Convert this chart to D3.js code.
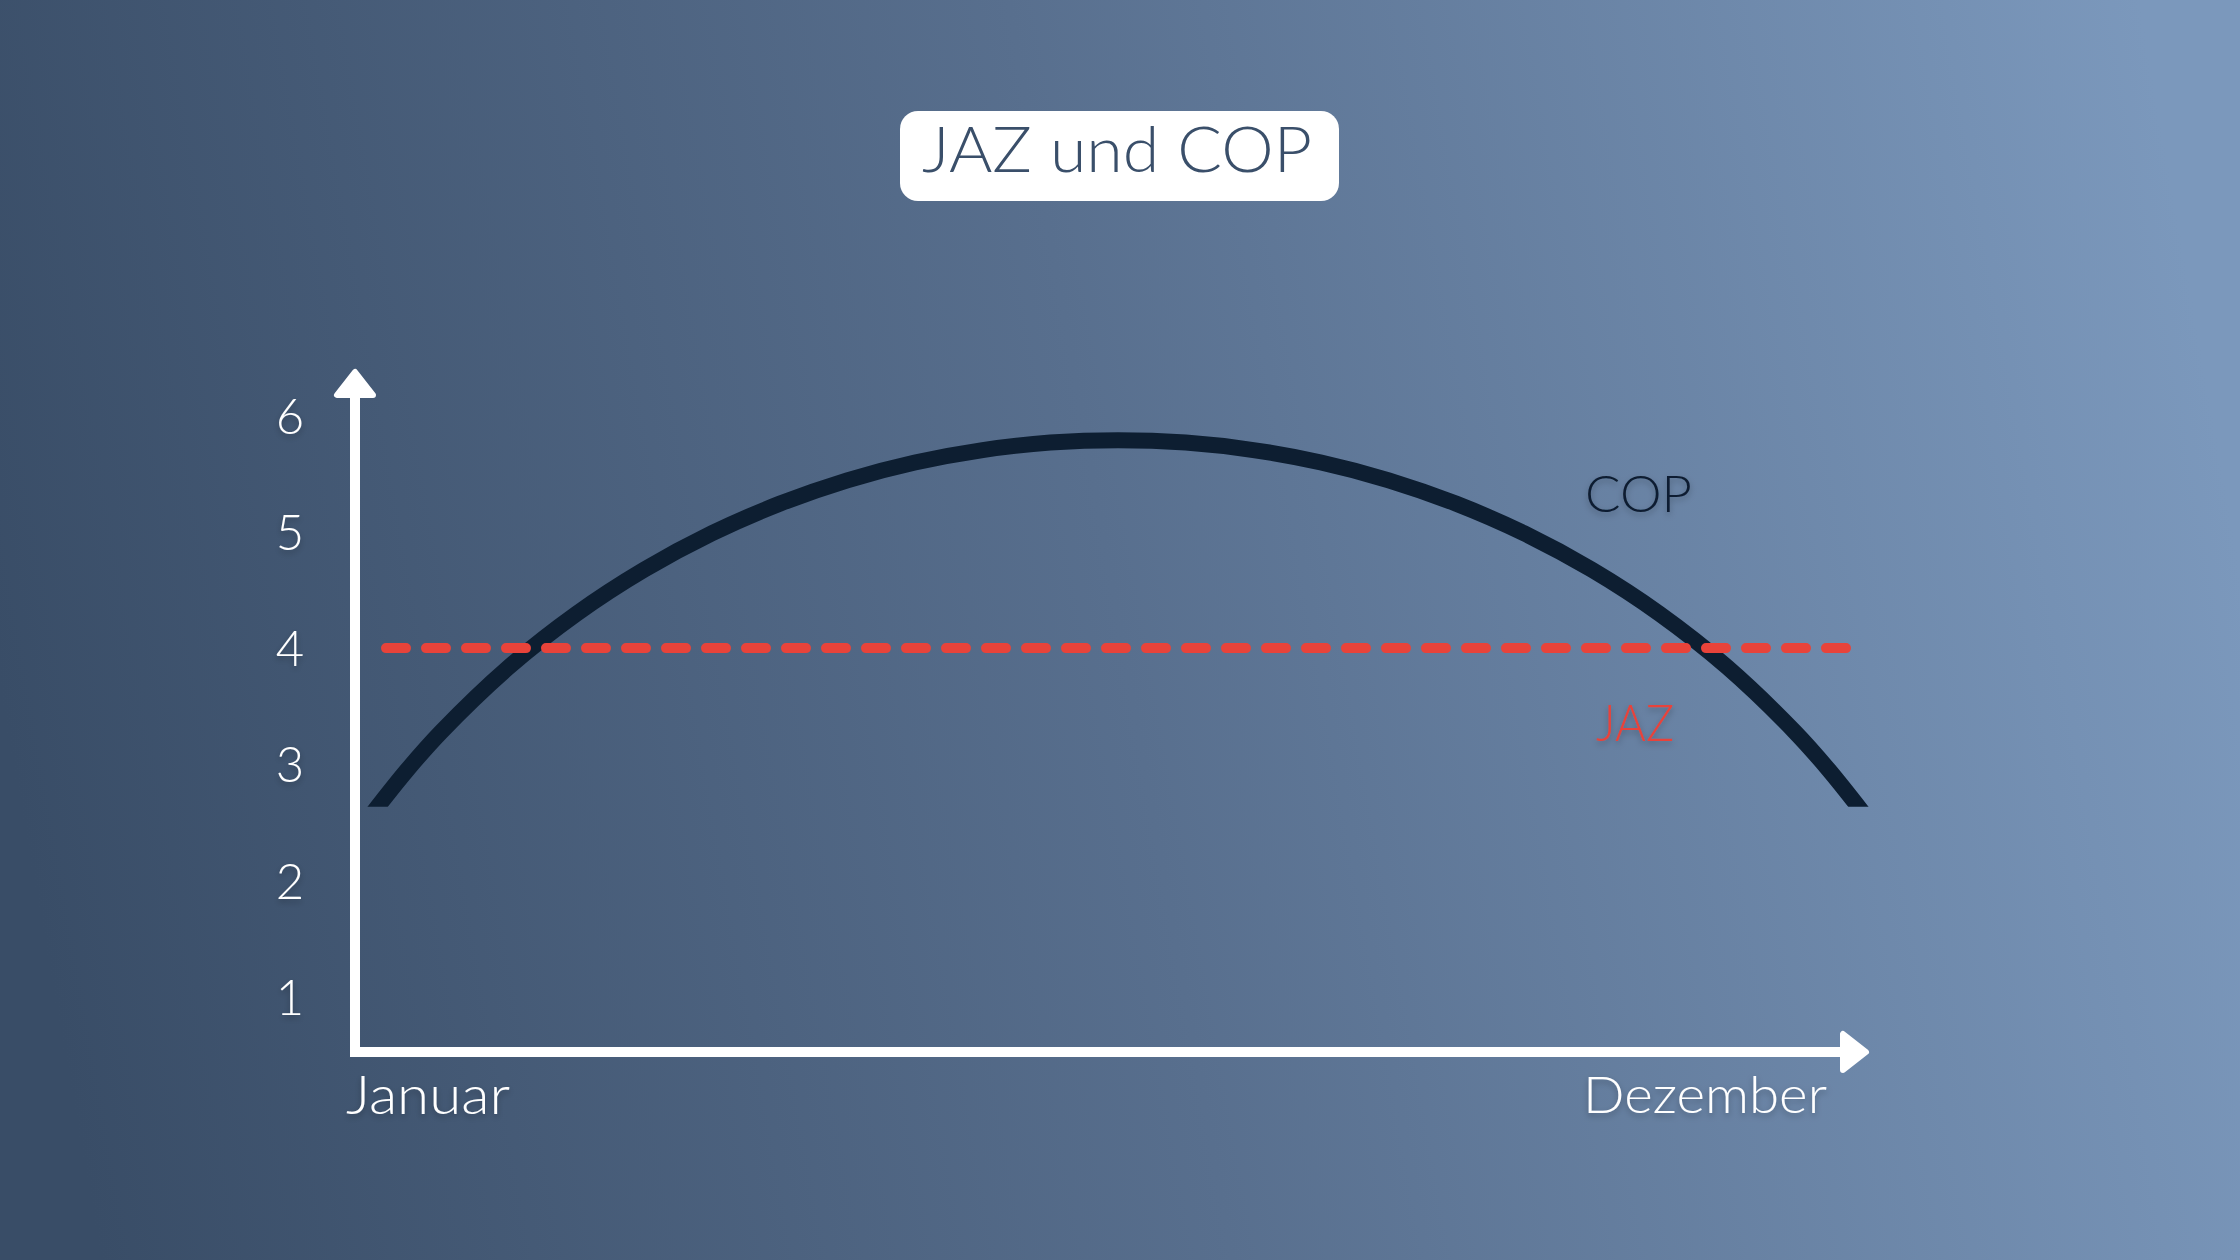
<!DOCTYPE html>
<html>
<head>
<meta charset="utf-8">
<script src="https://cdn.jsdelivr.net/npm/d3@7"></script>
<style>
  html, body { margin: 0; padding: 0; overflow: hidden; }
  svg { display: block; }
  text { font-family: Lato, "Open Sans", sans-serif; font-weight: 300; }
</style>
</head>
<body>
<script>
// ---- data ----
const months = ["Januar","Februar","März","April","Mai","Juni","Juli","August","September","Oktober","November","Dezember"];
// COP (month index 0 = Januar ... 11 = Dezember)
const copMonth = [0, 0.25, 0.5, 1, 1.5, 2, 2.5, 3, 3.5, 4, 4.5, 5, 5.5, 6, 6.5, 7, 7.5, 8, 8.5, 9, 9.5, 10, 10.5, 10.75, 11];
const copValues = [2.590, 2.954, 3.280, 3.837, 4.295, 4.674, 4.987, 5.241, 5.443, 5.596, 5.703, 5.767, 5.788,
                   5.767, 5.703, 5.596, 5.443, 5.241, 4.987, 4.674, 4.295, 3.837, 3.280, 2.954, 2.590];
const jazMonth = [0, 11];
const jazValues = [4, 4];
const yTicks = [1, 2, 3, 4, 5, 6];
const xLabels = ["Januar", "Dezember"];
const title = "JAZ und COP";

const W = 2240, H = 1260;
const svg = d3.select("body").append("svg").attr("width", W).attr("height", H);
const defs = svg.append("defs");

const bg = defs.append("linearGradient").attr("id", "bg")
  .attr("x1", "0").attr("y1", "0.55").attr("x2", "1").attr("y2", "0.45");
bg.append("stop").attr("offset", "0").attr("stop-color", "#394d67");
bg.append("stop").attr("offset", "0.5").attr("stop-color", "#586f8e");
bg.append("stop").attr("offset", "1").attr("stop-color", "#7b98bc");

const sh = defs.append("filter").attr("id", "shadow").attr("x", "-20%").attr("y", "-20%").attr("width", "140%").attr("height", "140%");
sh.append("feDropShadow").attr("dx", 0).attr("dy", 3).attr("stdDeviation", 3)
  .attr("flood-color", "#000").attr("flood-opacity", 0.28);

svg.append("rect").attr("width", W).attr("height", H).attr("fill", "url(#bg)");

// ---- scales ----
const x = d3.scaleLinear().domain([0, months.length - 1]).range([373.5, 1862.5]);
const y = d3.scaleLinear().domain([1, 6]).range([997, 415.5]);

const originX = 355, originY = 1052;

// ---- title ----
svg.append("rect").attr("x", 900).attr("y", 111).attr("width", 439).attr("height", 90)
  .attr("rx", 18).attr("fill", "#ffffff");
svg.append("text").attr("x", 922).attr("y", 172)
  .attr("font-size", 64).attr("fill", "#3a4f6a")
  .attr("textLength", 390).attr("lengthAdjust", "spacingAndGlyphs")
  .text(title);

// ---- axes ----
svg.append("path")
  .attr("d", `M${originX},392V${originY}H1846`)
  .attr("fill", "none").attr("stroke", "#fff").attr("stroke-width", 10)
  .attr("stroke-linejoin", "miter");
svg.append("path")
  .attr("d", `M${originX},372L${originX - 18},395L${originX + 18},395Z`)
  .attr("fill", "#fff").attr("stroke", "#fff").attr("stroke-width", 6).attr("stroke-linejoin", "round");
svg.append("path")
  .attr("d", `M1866,${originY}L1843,${originY - 18}L1843,${originY + 18}Z`)
  .attr("fill", "#fff").attr("stroke", "#fff").attr("stroke-width", 6).attr("stroke-linejoin", "round");

// y tick labels via d3 axis
const yAxis = svg.append("g").attr("transform", `translate(${originX},0)`)
  .call(d3.axisLeft(y).tickValues(yTicks).tickSize(0).tickFormat(d3.format("d")));
yAxis.select(".domain").remove();
yAxis.selectAll("text")
  .attr("x", -65).attr("dy", null).attr("y", 17.5)
  .attr("text-anchor", "middle")
  .attr("font-size", 49).attr("fill", "#fff")
  .attr("font-family", "Lato, sans-serif").attr("font-weight", 300)
  .attr("filter", "url(#shadow)");

// x labels
svg.append("text").attr("x", 346).attr("y", 1114)
  .attr("font-size", 53).attr("fill", "#fff").attr("filter", "url(#shadow)")
  .attr("textLength", 164).attr("lengthAdjust", "spacingAndGlyphs")
  .text(xLabels[0]);
svg.append("text").attr("x", 1583).attr("y", 1113)
  .attr("font-size", 51).attr("fill", "#fff").attr("filter", "url(#shadow)")
  .attr("textLength", 244).attr("lengthAdjust", "spacingAndGlyphs")
  .text(xLabels[1]);

// ---- COP curve ----
defs.append("clipPath").attr("id", "plotClip")
  .append("rect").attr("x", 300).attr("y", 300).attr("width", 1650).attr("height", y(2.635) - 300);

const line = d3.line().x((d, i) => x(copMonth[i])).y(d => y(d)).curve(d3.curveCatmullRom.alpha(0.5));
svg.append("path").datum(copValues)
  .attr("d", line)
  .attr("clip-path", "url(#plotClip)")
  .attr("fill", "none").attr("stroke", "#0d1e31").attr("stroke-width", 16);

// ---- JAZ dashed line ----
const lineJ = d3.line().x((d, i) => x(jazMonth[i])).y(d => y(d));
svg.append("path").datum(jazValues)
  .attr("d", lineJ)
  .attr("fill", "none").attr("stroke", "#e8433a").attr("stroke-width", 10)
  .attr("stroke-linecap", "round").attr("stroke-dasharray", "20 20").attr("stroke-dashoffset", -12.5);

// ---- series labels ----
svg.append("text").attr("x", 1585).attr("y", 512)
  .attr("font-size", 51).attr("fill", "#0e1d30").attr("filter", "url(#shadow)")
  .attr("textLength", 107).attr("lengthAdjust", "spacingAndGlyphs")
  .text("COP");
svg.append("text").attr("x", 1596).attr("y", 741)
  .attr("font-size", 52).attr("fill", "#e8433a").attr("filter", "url(#shadow)")
  .attr("textLength", 78).attr("lengthAdjust", "spacingAndGlyphs")
  .text("JAZ");
</script>
</body>
</html>
